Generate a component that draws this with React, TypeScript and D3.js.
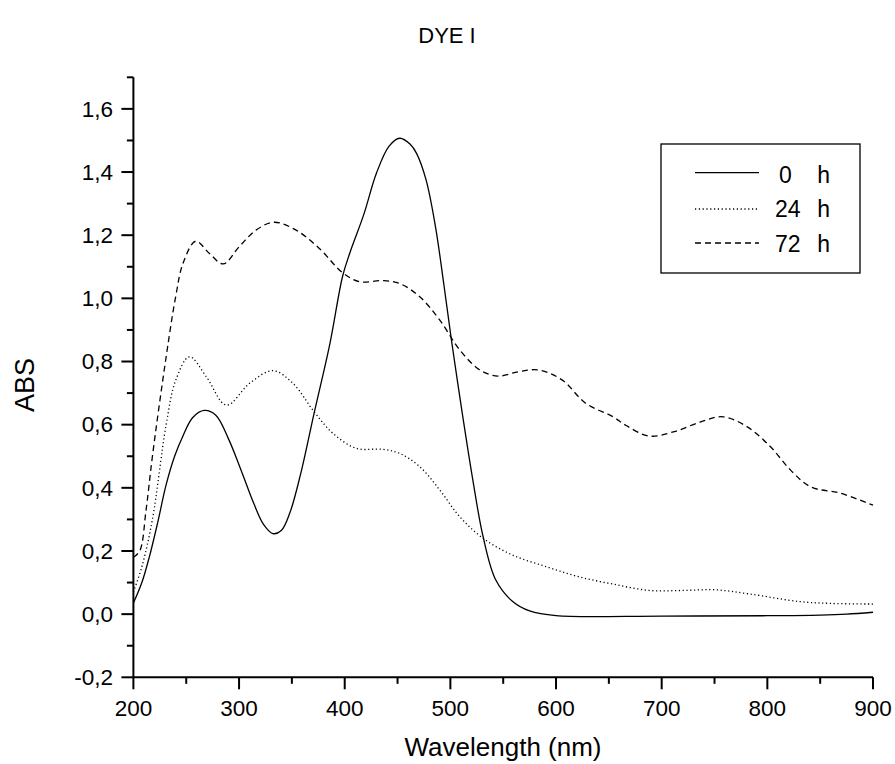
import React from "react";
import * as d3 from "d3";

const title = "DYE I";
const xLabel = "Wavelength (nm)";
const yLabel = "ABS";
const seriesNums = ["0", "24", "72"];

const wl0 = [200, 208, 215, 223, 231, 239, 247, 256, 267, 278, 290, 302, 314, 323, 332, 340, 348, 358, 371, 386, 398, 405, 418, 430, 442, 452, 462, 468, 477, 486, 494, 501, 512, 521, 531, 543, 559, 575, 600, 700, 800, 850, 875, 900];
const abs0 = [0.035, 0.1, 0.18, 0.29, 0.41, 0.5, 0.565, 0.622, 0.645, 0.63, 0.555, 0.455, 0.35, 0.285, 0.255, 0.265, 0.32, 0.44, 0.636, 0.857, 1.07, 1.145, 1.265, 1.396, 1.482, 1.507, 1.488, 1.459, 1.375, 1.225, 1.04, 0.868, 0.62, 0.43, 0.245, 0.108, 0.04, 0.01, -0.005, -0.006, -0.005, -0.003, 0.0, 0.006];

const wl24 = [200, 208, 218, 231, 240, 253, 269, 288, 310, 332, 351, 371, 389, 411, 436, 452, 471, 490, 509, 531, 559, 591, 622, 654, 688, 720, 751, 783, 830, 860, 900];
const abs24 = [0.07, 0.15, 0.3, 0.6, 0.74, 0.815, 0.752, 0.662, 0.731, 0.771, 0.731, 0.641, 0.572, 0.525, 0.522, 0.509, 0.467, 0.393, 0.308, 0.24, 0.187, 0.15, 0.118, 0.095, 0.075, 0.075, 0.077, 0.064, 0.04, 0.034, 0.032];

const wl72 = [200, 206, 212, 218, 231, 240, 247, 259, 272, 285, 300, 316, 333, 354, 376, 398, 414, 436, 452, 471, 490, 509, 528, 545, 565, 584, 606, 628, 654, 666, 688, 712, 737, 758, 781, 803, 822, 841, 869, 900];
const abs72 = [0.18, 0.2, 0.33, 0.5, 0.815, 1.005, 1.111, 1.181, 1.142, 1.109, 1.163, 1.216, 1.241, 1.216, 1.158, 1.081, 1.053, 1.056, 1.047, 1.005, 0.931, 0.836, 0.773, 0.754, 0.768, 0.773, 0.741, 0.668, 0.625, 0.598, 0.564, 0.578, 0.609, 0.625, 0.593, 0.53, 0.456, 0.403, 0.383, 0.345];

const xMajor = [200, 300, 400, 500, 600, 700, 800, 900];
const xMinor = [250, 350, 450, 550, 650, 750, 850];
const yMajor = [-0.2, 0, 0.2, 0.4, 0.6, 0.8, 1.0, 1.2, 1.4, 1.6];
const yMinor = [-0.1, 0.1, 0.3, 0.5, 0.7, 0.9, 1.1, 1.3, 1.5, 1.7];

const FONT = "'Liberation Sans', Arial, sans-serif";

export default function App() {
  const x = d3.scaleLinear().domain([200, 900]).range([133.4, 873]);
  const y = d3.scaleLinear().domain([-0.2, 1.7]).range([677.3, 77.3]);
  const line = d3
    .line<[number, number]>()
    .x((d) => x(d[0]))
    .y((d) => y(d[1]))
    .curve(d3.curveCatmullRom.alpha(0.5));
  const series = [
    { w: wl0, a: abs0, dash: "none" },
    { w: wl24, a: abs24, dash: "1.2,2.6" },
    { w: wl72, a: abs72, dash: "6,4" },
  ];
  const fmt = (v: number) => d3.format(".1f")(v).replace("−", "-").replace(".", ",");
  const x0 = x(200);
  const y0 = y(-0.2);

  return (
    <svg
      width={895}
      height={764}
      style={{ position: "absolute", left: 0, top: 0, background: "#fff" }}
      fontFamily={FONT}
    >
      <rect width={895} height={764} fill="#fff" />
      <text x={447} y={43} fontSize={22} textAnchor="middle" fill="#000">
        {title}
      </text>
      {series.map((s, i) => (
        <path
          key={i}
          d={line(s.w.map((w, j) => [w, s.a[j]] as [number, number])) || ""}
          fill="none"
          stroke="#000"
          strokeWidth={1.3}
          strokeDasharray={s.dash}
        />
      ))}
      <line x1={x0} x2={x0} y1={y(1.7)} y2={y0} stroke="#000" strokeWidth={2} />
      <line x1={x0} x2={x(900)} y1={y0} y2={y0} stroke="#000" strokeWidth={2} />
      {xMajor.map((v) => (
        <g key={"xm" + v}>
          <line x1={x(v)} x2={x(v)} y1={y0} y2={y0 + 12} stroke="#000" strokeWidth={2} />
          <text x={x(v)} y={716} fontSize={22.5} textAnchor="middle" fill="#000">
            {v}
          </text>
        </g>
      ))}
      {xMinor.map((v) => (
        <line key={"xn" + v} x1={x(v)} x2={x(v)} y1={y0} y2={y0 + 6.5} stroke="#000" strokeWidth={2} />
      ))}
      {yMajor.map((v) => (
        <g key={"ym" + v}>
          <line x1={x0 - 12} x2={x0} y1={y(v)} y2={y(v)} stroke="#000" strokeWidth={2} />
          <text x={113} y={y(v) + 7.8} fontSize={22.5} textAnchor="end" fill="#000">
            {fmt(v)}
          </text>
        </g>
      ))}
      {yMinor.map((v) => (
        <line key={"yn" + v} x1={x0 - 6.5} x2={x0} y1={y(v)} y2={y(v)} stroke="#000" strokeWidth={2} />
      ))}
      <text x={503} y={756} fontSize={26} textAnchor="middle" fill="#000">
        {xLabel}
      </text>
      <text transform={`translate(34,385) rotate(-90)`} fontSize={27} textAnchor="middle" fill="#000">
        {yLabel}
      </text>
      <rect x={661} y={144} width={199} height={129} fill="#fff" stroke="#000" strokeWidth={1.3} />
      {series.map((s, i) => {
        const ly = [172.7, 209, 243][i];
        const ty = [183.3, 217.3, 251.7][i];
        return (
          <g key={"lg" + i}>
            <line x1={695} x2={759} y1={ly} y2={ly} stroke="#000" strokeWidth={1.3} strokeDasharray={s.dash} />
            <text x={i === 0 ? 779 : 775} y={ty} fontSize={23} textAnchor="start" fill="#000">
              {seriesNums[i]}
            </text>
            <text x={830} y={ty} fontSize={23} textAnchor="end" fill="#000">
              h
            </text>
          </g>
        );
      })}
    </svg>
  );
}
